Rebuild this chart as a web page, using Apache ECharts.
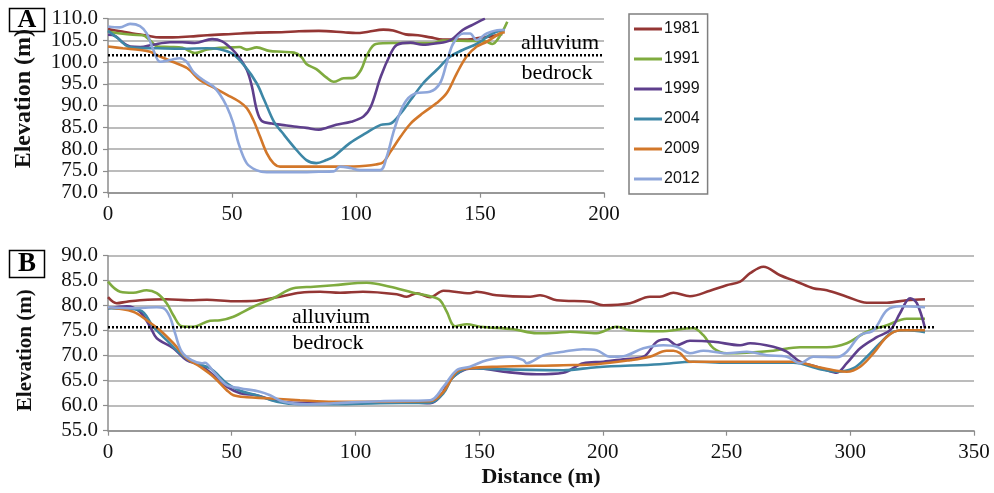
<!DOCTYPE html>
<html>
<head>
<meta charset="utf-8">
<script src="https://cdn.jsdelivr.net/npm/echarts@6/dist/echarts.min.js"></script>
<style>
html,body{margin:0;padding:0;background:#fff;}
#c{width:994px;height:493px;}
</style>
</head>
<body>
<div id="c"></div>
<script>
// ---------- DATA ----------
const years = ['1981', '1991', '1999', '2004', '2009', '2012'];
const yTicksA = [70, 110, 5];   // min, max, step
const yTicksB = [55, 90, 5];
const xTicksA = [0, 200, 50];
const xTicksB = [0, 350, 50];
const contactA = 101.6;  // alluvium / bedrock contact, panel A
const contactB = 75.7;   // panel B
const contactEndA = 200;
const contactEndB = 334;

// Panel A profiles: [distance (m), elevation (m)]
const a1981 = [[0,107.6],[5,107.1],[10,106.6],[15,106.2],[21,105.7],[26,105.7],[33,105.9],[40,106.2],[50,106.5],[60,106.8],[70,106.9],[77,107.1],[85,107.2],[95,106.9],[100,106.7],[105,107.0],[111,107.5],[115,107.3],[120,106.4],[125,106.2],[130,105.7],[135,105.2],[145,105.2],[150,105.6],[155,106.0],[159,106.5]];
const a1991 = [[0,107.0],[5,106.6],[10,106.3],[14,106.2],[17,105.0],[20,103.6],[25,103.5],[30,103.3],[35,102.1],[40,102.9],[45,103.3],[50,103.4],[53,103.5],[56,102.9],[60,103.4],[65,102.6],[70,102.4],[75,102.2],[78,101.2],[80,99.6],[84,98.4],[88,96.5],[91,95.5],[95,96.3],[99,96.4],[102,98.2],[104.5,101.7],[108,104.2],[115,104.4],[125,104.4],[131,104.4],[135,105.0],[145,104.9],[152,104.8],[155,104.2],[158,106.0],[161,109.3]];
const a1999 = [[0,106.3],[3,106.0],[6,104.5],[9,103.6],[13,103.5],[18,104.0],[25,104.6],[30,104.6],[35,104.4],[42,105.3],[46,104.8],[50,103.0],[53,101.0],[56,98.2],[58,94.5],[60,89.0],[62,86.5],[66,85.9],[70,85.6],[75,85.2],[80,84.9],[85,84.5],[88,84.9],[92,85.6],[98,86.3],[103,87.5],[106,89.8],[110,96.7],[114,102.0],[116.5,104.0],[122,104.5],[127,104.0],[132,104.3],[138,105.0],[143,107.4],[147,108.6],[152,110.0]];
const a2004 = [[0,107.2],[4,105.5],[8,103.6],[12,103.3],[20,103.2],[30,103.1],[40,103.2],[45,103.0],[50,102.0],[55,99.2],[60,95.1],[63,91.3],[67,86.2],[70,84.0],[75,80.5],[80,77.5],[84,76.8],[88,77.5],[91,78.3],[97.5,81.4],[104,83.7],[110,85.6],[114,85.9],[118,88.2],[122,91.3],[127,95.1],[132.5,98.2],[138,101.3],[143,102.8],[149,104.3],[155,106.6],[160,107.4]];
const a2009 = [[0,103.6],[6,103.2],[13,102.8],[17,102.4],[21,101.3],[26,100.1],[32,98.6],[37,95.9],[42.5,94.2],[48,92.5],[53,90.9],[56,89.4],[58.6,86.7],[61.3,82.9],[64,79.1],[66.7,76.8],[69.4,76.0],[75,76.0],[85,76.0],[95,76.0],[104,76.2],[108,76.5],[111,77.0],[114,79.5],[118,82.9],[122,85.9],[127,88.3],[132.5,90.6],[136.6,92.9],[140.6,97.4],[144.6,101.3],[148.7,103.6],[152.7,104.7],[158,106.6],[160,106.9]];
const a2012 = [[0,108.2],[4.8,108.0],[8.9,108.8],[12.9,108.3],[15.6,106.6],[18.3,102.8],[21,100.1],[25,100.5],[29,100.9],[31.7,100.1],[34.4,97.8],[38.4,95.9],[42.5,94.4],[45.2,92.5],[47.9,89.8],[50.5,86.0],[52.6,81.4],[55.9,76.8],[59.8,75.2],[64,74.7],[75,74.7],[85,74.8],[91,74.9],[93.5,76.0],[97.6,75.7],[101.6,75.2],[109.7,75.2],[112.4,78.3],[115,83.7],[117.7,88.3],[120.4,91.3],[124.4,92.9],[129.8,93.2],[133.8,95.1],[136.5,99.7],[139.2,104.3],[143.3,106.6],[146,106.6],[148.6,105.1],[152.7,106.6],[158,107.4],[160,107.4]];

// Panel B profiles
const b1981 = [[0,81.7],[3.5,80.5],[7.6,80.8],[12.9,81.1],[23.7,81.3],[33,81.1],[40,81.2],[50.7,80.9],[60,81.0],[69.5,81.8],[77.6,82.6],[85.7,82.8],[93.8,82.6],[103,82.8],[116.7,82.3],[120.7,81.8],[124.8,82.5],[130.2,81.7],[135.6,83.0],[146.3,82.5],[149,82.8],[157,82.1],[170.6,81.8],[174.6,82.1],[181.4,81.1],[194.8,80.8],[200.2,80.1],[211,80.5],[219,81.8],[223,81.8],[228.5,82.6],[235.2,81.9],[243.3,83.0],[250,84.1],[255.5,84.8],[259.5,86.5],[264.9,87.8],[271.6,86.1],[278.4,84.8],[285,83.5],[290.5,83.1],[298.6,81.8],[306.7,80.6],[314.8,80.6],[322.8,81.1],[330.2,81.3]];
const b1991 = [[0,84.8],[4.9,82.8],[10.2,82.6],[15.6,83.1],[19.7,82.5],[23.7,80.5],[26.4,78.1],[29.8,75.9],[34.5,75.8],[41.2,77.0],[45.3,77.1],[50.7,77.8],[58.7,79.8],[66.8,81.5],[74.9,83.5],[83.1,83.8],[91.2,84.1],[104.6,84.6],[114,83.8],[123.4,82.6],[130.2,81.9],[134.2,81.1],[136.9,78.8],[140.3,75.9],[145,76.3],[150.4,75.8],[163.8,75.3],[173.3,74.5],[181.4,74.6],[186.7,74.8],[197.5,74.5],[205.6,75.8],[211,75.1],[223,74.9],[236.6,75.5],[240.6,74.1],[244.7,71.5],[250.1,70.5],[258.2,70.6],[268.9,71.0],[279.7,71.7],[290.5,71.7],[298.6,72.5],[306.7,74.8],[314.8,76.1],[322.8,77.4],[330.2,77.4]];
const b1999 = [[0,79.5],[7.6,79.9],[12.9,78.8],[17,75.8],[19.7,73.5],[26.4,71.5],[31.8,69.1],[37.2,68.1],[42.6,66.1],[48,63.8],[53.4,62.5],[60.1,62.1],[66.8,61.1],[74.9,60.6],[91.2,60.6],[116.7,60.8],[130.2,60.5],[134.2,61.8],[138.2,65.1],[143.6,67.1],[149,67.5],[159.8,66.8],[173.3,66.3],[184,66.6],[192.1,68.5],[200.2,68.8],[208.3,69.3],[216.4,69.8],[221.8,72.8],[225.8,73.3],[229.9,72.1],[235.2,73.0],[244.7,72.8],[255.5,72.1],[259.5,72.5],[268.9,71.8],[274.3,70.8],[279.7,68.8],[286.4,67.8],[290.5,67.1],[294.5,66.6],[298.6,68.5],[304,71.5],[310.7,73.7],[316.1,75.1],[320.1,78.5],[324.2,81.5],[326.9,80.5],[330.2,75.5]];
const b2004 = [[0,79.5],[12.9,79.1],[18.3,75.8],[23.7,73.1],[28.4,70.8],[33.8,68.8],[41.2,67.5],[48,64.5],[53.4,63.0],[60,62.1],[68.2,60.8],[77.6,60.3],[91.2,60.3],[110,60.5],[130.2,60.6],[135.6,62.5],[139.6,65.8],[146.3,67.5],[157.1,67.3],[184,67.1],[197.5,67.7],[223,68.3],[236.6,68.8],[250,68.6],[277,68.6],[287.8,67.3],[294.5,66.8],[301.3,67.5],[306.7,69.8],[312,72.5],[317.5,74.8],[322.8,75.1],[330.2,74.7]];
const b2009 = [[0,79.7],[10.2,78.8],[15.6,77.1],[21,75.1],[26.4,72.5],[31.8,69.5],[37.2,67.8],[42.6,65.8],[48,63.1],[50.7,62.1],[56.1,61.7],[64.2,61.5],[77.6,61.1],[91.2,60.8],[130.2,60.9],[135.6,62.8],[140.9,66.8],[146.3,67.5],[157.1,67.8],[184,68.1],[197.5,68.3],[211,69.1],[219,69.8],[225.8,71.0],[228.5,71.0],[231.2,70.5],[235.2,68.8],[243.3,68.8],[263.6,68.8],[277,68.8],[286.4,67.8],[294.5,67.0],[298.6,66.8],[304,67.8],[309.4,70.5],[314.8,73.8],[320.1,75.1],[330.2,75.1]];
const b2012 = [[0,79.7],[10.2,79.5],[19.7,79.7],[22.4,79.5],[25,77.8],[27.1,74.5],[29.8,70.8],[33.8,69.1],[37.9,68.5],[39.2,68.6],[42.6,66.8],[48,64.1],[53.4,63.5],[61.4,62.8],[65.5,62.1],[70.9,60.8],[80.3,60.3],[91.2,60.5],[110,60.9],[130.2,61.1],[135.6,63.8],[140.9,67.1],[146.3,67.8],[153.1,69.1],[162.5,69.8],[167.9,69.1],[169.2,68.5],[176,70.1],[184.1,70.8],[192.1,71.3],[197.5,71.1],[202.9,69.8],[208.3,69.9],[216.4,71.5],[224.5,72.1],[229.9,71.8],[235.2,70.5],[240.6,71.0],[250.1,70.5],[258.2,70.8],[266.2,70.1],[274.3,69.8],[279.7,68.5],[285.1,69.8],[294.5,69.7],[298.6,70.8],[304,74.1],[309.4,75.1],[314.8,79.1],[320.1,79.9],[330.2,79.7]];

const panelA = [a1981, a1991, a1999, a2004, a2009, a2012];
const panelB = [b1981, b1991, b1999, b2004, b2009, b2012];

// ---------- STYLE ----------
const colors = ['#943634', '#7fab3f', '#5e3f8c', '#3d87a6', '#d2772a', '#8ea6da'];
const serif = 'Liberation Serif';
const gridColor = '#a6a6a6';

const chart = echarts.init(document.getElementById('c'), null, {renderer: 'canvas'});

function labelStyle() {
  return {color: '#111', fontFamily: serif, fontSize: 21, fontWeight: 'normal'};
}
function xAxis(gridIndex, t, withName) {
  return {
    type: 'value', gridIndex, min: t[0], max: t[1], interval: t[2],
    axisLine: {show: true, lineStyle: {color: '#8c8c8c', width: 1.5}},
    axisTick: {show: true, length: 5, lineStyle: {color: '#8c8c8c', width: 1.2}},
    splitLine: {show: false},
    axisLabel: Object.assign(labelStyle(), {margin: 11, textStyle: labelStyle()}),
    name: withName ? 'Distance (m)' : '',
    nameLocation: 'middle', nameGap: 36,
    nameTextStyle: {color: '#111', fontFamily: serif, fontWeight: 'bold', fontSize: 22}
  };
}
function yAxis(gridIndex, t, titleSize, titlePad) {
  return {
    type: 'value', gridIndex, min: t[0], max: t[1], interval: t[2],
    axisLine: {show: true, lineStyle: {color: '#8c8c8c', width: 1.5}},
    axisTick: {show: true, length: 5, lineStyle: {color: '#8c8c8c', width: 1.2}},
    splitLine: {show: true, lineStyle: {color: gridColor, width: 1.5}},
    axisLabel: Object.assign(labelStyle(), {margin: 10, textStyle: labelStyle(),
      formatter: v => v.toFixed(1)}),
    name: 'Elevation (m)', nameLocation: 'middle', nameGap: 72,
    nameTextStyle: {color: '#111', fontFamily: serif, fontWeight: 'bold', fontSize: titleSize, padding: titlePad}
  };
}

const series = [];
years.forEach((y, i) => {
  series.push({name: y, type: 'line', xAxisIndex: 0, yAxisIndex: 0, data: panelA[i],
    smooth: 0.35, showSymbol: false, symbol: 'none', clip: true,
    lineStyle: {color: colors[i], width: 2.6}, itemStyle: {color: colors[i]}, z: 3});
  series.push({name: y, type: 'line', xAxisIndex: 1, yAxisIndex: 1, data: panelB[i],
    smooth: 0.35, showSymbol: false, symbol: 'none', clip: true,
    lineStyle: {color: colors[i], width: 2.6}, itemStyle: {color: colors[i]}, z: 3});
});
series.push({name: 'contactA', type: 'line', xAxisIndex: 0, yAxisIndex: 0,
  data: [[0, contactA], [contactEndA, contactA]], symbol: 'none', z: 5,
  lineStyle: {color: '#000', width: 2.5, type: [2, 2]}});
series.push({name: 'contactB', type: 'line', xAxisIndex: 1, yAxisIndex: 1,
  data: [[0, contactB], [contactEndB, contactB]], symbol: 'none', z: 5, clip: false,
  lineStyle: {color: '#000', width: 2.5, type: [2, 2]}});

const option = {
  animation: false,
  backgroundColor: '#fff',
  textStyle: {fontFamily: serif},
  grid: [
    {left: 108, top: 18.7, width: 496, height: 174},
    {left: 108, top: 255.7, width: 866, height: 175}
  ],
  xAxis: [xAxis(0, xTicksA, false), xAxis(1, xTicksB, true)],
  yAxis: [yAxis(0, yTicksA, 24, [0, 0, 0, 14]), yAxis(1, yTicksB, 21, [0, 14, 0, 0])],
  legend: {
    data: years, orient: 'vertical', left: 629, top: 14,
    width: 78,
    padding: [6, 8, 6, 5],
    itemGap: 12, itemWidth: 28, itemHeight: 3, icon: 'rect',
    borderColor: '#7f7f7f', borderWidth: 1.5,
    textStyle: {color: '#111', fontFamily: 'Liberation Sans', fontSize: 16, lineHeight: 18, padding: [0, 0, 0, -3]}
  },
  series,
  graphic: [
    {type: 'rect', shape: {x: 9.5, y: 8.5, width: 35, height: 23}, style: {fill: '#fff', stroke: '#000', lineWidth: 1.5}},
    {type: 'text', style: {x: 27, y: 20.5, text: 'A', align: 'center', verticalAlign: 'middle', font: "bold 26px 'Liberation Serif'", fill: '#000'}},
    {type: 'rect', shape: {x: 9.5, y: 250.5, width: 35, height: 27}, style: {fill: '#fff', stroke: '#000', lineWidth: 1.5}},
    {type: 'text', style: {x: 27, y: 264.5, text: 'B', align: 'center', verticalAlign: 'middle', font: "bold 27px 'Liberation Serif'", fill: '#000'}},
    {type: 'text', z: 10, style: {x: 560, y: 43, text: 'alluvium', align: 'center', verticalAlign: 'middle', font: "22px 'Liberation Serif'", fill: '#000'}},
    {type: 'text', z: 10, style: {x: 557, y: 73, text: 'bedrock', align: 'center', verticalAlign: 'middle', font: "22px 'Liberation Serif'", fill: '#000'}},
    {type: 'text', z: 10, style: {x: 331, y: 317, text: 'alluvium', align: 'center', verticalAlign: 'middle', font: "22px 'Liberation Serif'", fill: '#000'}},
    {type: 'text', z: 10, style: {x: 328, y: 343, text: 'bedrock', align: 'center', verticalAlign: 'middle', font: "22px 'Liberation Serif'", fill: '#000'}}
  ]
};
chart.setOption(option);
</script>
</body>
</html>
